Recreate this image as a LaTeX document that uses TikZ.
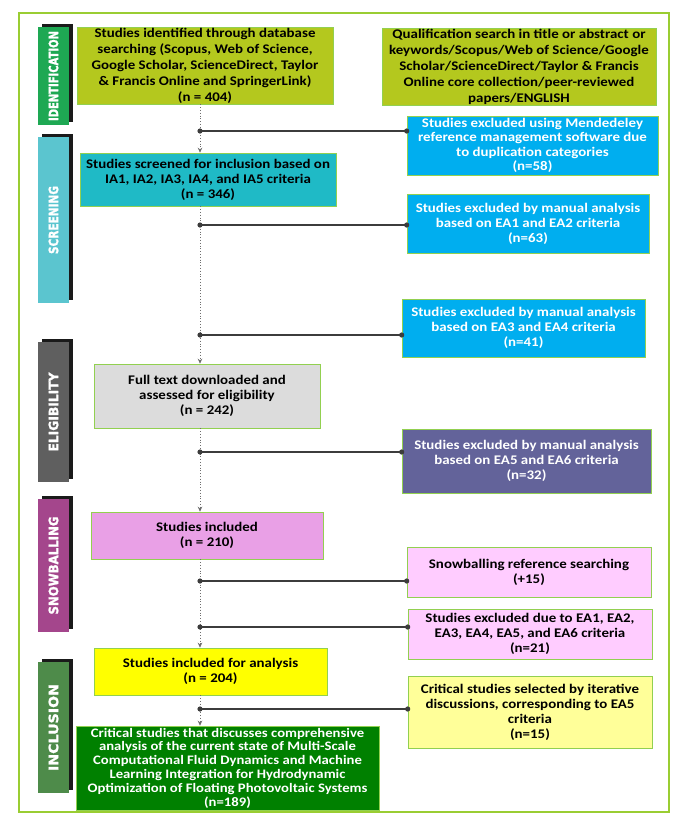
\documentclass[tikz,border=0pt]{standalone}
\usepackage{fontspec}
\setmainfont{Carlito}[FakeStretch=1.13]
\newfontfamily\tabfont{DejaVu Sans Bold}[FakeBold=1.6]
\usepackage{graphicx}
\usepackage{xcolor}
\usetikzlibrary{arrows.meta}
\usetikzlibrary{calc}
\usetikzlibrary{positioning}

\definecolor{frame}{HTML}{9ACD32}
\definecolor{boxedge}{HTML}{92D050}
\definecolor{idbox}{HTML}{B4C81E}
\definecolor{exblue}{HTML}{00AEEF}
\definecolor{scbox}{HTML}{1FBAC6}
\definecolor{elbox}{HTML}{DCDCDC}
\definecolor{exslate}{HTML}{63639A}
\definecolor{snbox}{HTML}{E9A0E6}
\definecolor{snlight}{HTML}{FFCCFF}
\definecolor{inbox}{HTML}{FFFF00}
\definecolor{inlight}{HTML}{FFFF99}
\definecolor{finalbox}{HTML}{008000}
\definecolor{tabid}{HTML}{1EA853}
\definecolor{tabsc}{HTML}{5BC5CF}
\definecolor{tabel}{HTML}{5F5F5F}
\definecolor{tabsn}{HTML}{A4468C}
\definecolor{tabin}{HTML}{4E8B4A}
\definecolor{tabshadow}{HTML}{1A1A1A}
\definecolor{flowgray}{HTML}{6E6E6E}
\definecolor{branchgray}{HTML}{3C3C3C}

\tikzset{
  box/.style={draw=boxedge, line width=0.6pt, inner sep=0pt, align=center,
    font=\bfseries\fontsize{13.2}{15}\selectfont},
  tablabel/.style={inner sep=0pt, text=white, font=\tabfont},
  flow/.style={dotted, line width=0.8pt, draw=flowgray,
    -{Stealth[length=5pt,width=4.5pt]}},
  branch/.style={line width=1.2pt, draw=branchgray}
}

\begin{document}
\begin{tikzpicture}[x=1pt, y=-1pt]

        \useasboundingbox (0,0) rectangle (685,823);

        % Frame
        \draw[frame, line width=2pt] (19,13) rectangle (669,812);

        % Phase tabs
        \foreach \lbl/\col/\ya/\yb/\len in {IDENTIFICATION/tabid/27/125/90,
            SCREENING/tabsc/137/303/68, ELIGIBILITY/tabel/342/482/79,
            SNOWBALLING/tabsn/499/632/98, INCLUSION/tabin/662/793/87}
        {
          \fill[tabshadow] (42,\ya-3) rectangle (73,\yb-3);
          \fill[\col] (38,\ya) rectangle (69,\yb);
          \node[tablabel, rotate=90] (t\lbl) at (53.5,{(\ya+\yb)/2}) {\resizebox{\len pt}{9.5pt}{\lbl}};
        }

        % Main column
        \node[box, fill=idbox, minimum width=256pt, minimum height=77pt,
          font=\bfseries\fontsize{13.2}{16}\selectfont] (A) at (205,65.5)
          {Studies identified through database\\searching (Scopus, Web of Science,\\Google Scholar, ScienceDirect, Taylor\\\& Francis Online and SpringerLink)\\(n = 404)};
        \node[box, fill=scbox, minimum width=256pt, minimum height=53pt] (D) at (208,179.5)
          {Studies screened for inclusion based on\\IA1, IA2, IA3, IA4, and IA5 criteria\\(n = 346)};
        \node[box, fill=elbox, minimum width=226pt, minimum height=64pt] (G) at (207,396)
          {Full text downloaded and\\assessed for eligibility\\(n = 242)};
        \node[box, fill=snbox, minimum width=232pt, minimum height=47pt] (I) at (207,535.5)
          {Studies included\\(n = 210)};
        \node[box, fill=inbox, minimum width=233pt, minimum height=47pt] (L) at (210.5,671.5)
          {Studies included for analysis\\(n = 204)};
        \node[box, fill=finalbox, text=white, minimum width=303pt, minimum height=84pt,
          font=\bfseries\fontsize{13}{13.8}\selectfont] (N) at (227.5,768)
          {Critical studies that discusses comprehensive\\analysis of the current state of Multi-Scale\\Computational Fluid Dynamics and Machine\\Learning Integration for Hydrodynamic\\Optimization of Floating Photovoltaic Systems\\(n=189)};

        % Side column
        \node[box, fill=idbox, minimum width=274pt, minimum height=77pt,
          font=\bfseries\fontsize{13.2}{16}\selectfont] (B) at (519,66.5)
          {Qualification search in title or abstract or\\keywords/Scopus/Web of Science/Google\\Scholar/ScienceDirect/Taylor \& Francis\\Online core collection/peer-reviewed\\papers/ENGLISH};
        \node[box, fill=exblue, text=white, minimum width=251pt, minimum height=59pt,
          font=\bfseries\fontsize{13.2}{14.5}\selectfont] (C) at (532.5,145.5)
          {Studies excluded using Mendedeley\\reference management software due\\to duplication categories\\(n=58)};
        \node[box, fill=exblue, text=white, minimum width=242pt, minimum height=59pt] (E) at (528,223.5)
          {Studies excluded by manual analysis\\based on EA1 and EA2 criteria\\(n=63)};
        \node[box, fill=exblue, text=white, minimum width=243pt, minimum height=58pt] (F) at (523.5,328)
          {Studies excluded by manual analysis\\based on EA3 and EA4 criteria\\(n=41)};
        \node[box, fill=exslate, text=white, minimum width=249pt, minimum height=64pt] (H) at (526.5,461)
          {Studies excluded by manual analysis\\based on EA5 and EA6 criteria\\(n=32)};
        \node[box, fill=snlight, minimum width=244pt, minimum height=50pt] (J) at (529,572)
          {Snowballing reference searching\\(+15)};
        \node[box, fill=snlight, minimum width=244pt, minimum height=50pt] (K) at (530,634)
          {Studies excluded due to EA1, EA2,\\EA3, EA4, EA5, and EA6 criteria\\(n=21)};
        \node[box, fill=inlight, minimum width=244pt, minimum height=72pt] (M) at (530,712)
          {Critical studies selected by iterative\\discussions, corresponding to EA5\\criteria\\(n=15)};

        % Flow down the spine
        \coordinate (spine) at (200,0);
        \foreach \p/\q in {A/D, D/G, G/I, I/L, L/N}
        {
          \draw[flow] (\p.south -| spine) -- (\q.north -| spine);
        }

        % Branches to the side boxes
        \foreach \bx/\by in {C/131, E/225, F/335, H/452, J/581, K/627, M/709}
        {
          \coordinate (s\bx) at (200,\by);
          \draw[branch] (s\bx) -- (s\bx -| \bx.west);
          \fill[branchgray] (s\bx) circle (2.6pt) (s\bx -| \bx.west) circle (2.6pt);
        }
    \end{tikzpicture}
\end{document}
